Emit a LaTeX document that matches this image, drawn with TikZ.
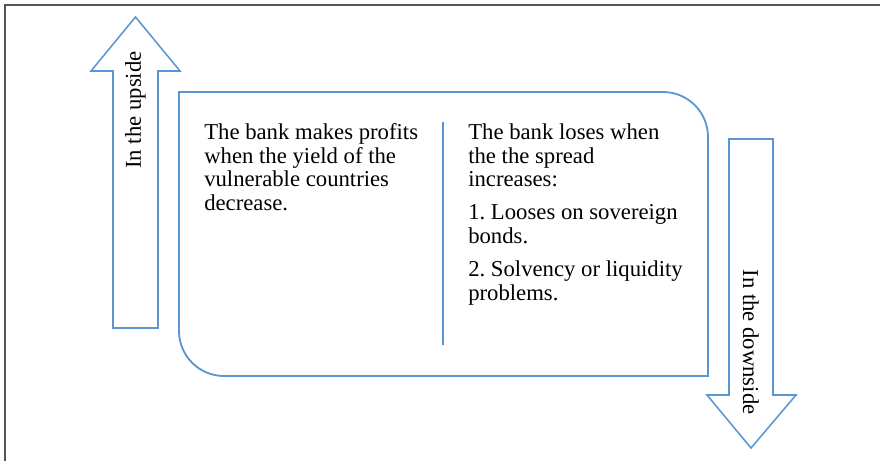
\documentclass[tikz,border=0pt]{standalone}
\usepackage{fontspec}
\setmainfont{Liberation Serif}
\usepackage{tikz}
\frenchspacing

\definecolor{officeblue}{RGB}{91,150,210}
\definecolor{framegray}{RGB}{85,85,85}

\tikzset{
  outline/.style={draw=officeblue, line width=1.1pt},
  bodytext/.style={anchor=north west, inner sep=0pt, align=left,
    font=\fontsize{16.15}{16.7}\selectfont},
  sidetext/.style={inner sep=0pt, font=\fontsize{16.15}{16.7}\selectfont}
}

\begin{document}
\begin{tikzpicture}[x=0.025cm, y=0.025cm]
\useasboundingbox (0,0) rectangle (880,461);
% frame
\draw [framegray, line width=1.4pt] (5,0) -- (5,456) -- (880,456);
% up arrow
\draw [outline] (113,133) -- (113,390) -- (91,390) -- (135.5,444)
  -- (180,390) -- (158,390) -- (158,133) -- cycle;
\node [sidetext, rotate=90] (upside) at (135.5,351) {In the upside};
% down arrow
\draw [outline] (729,322) -- (729,66) -- (707,66) -- (751,13)
  -- (796,66) -- (773,66) -- (773,322) -- cycle;
\node [sidetext, rotate=-90] (downside) at (751,119) {In the downside};
% main box
\draw [outline, line width=1.3pt] (179,369) -- (663,369)
  arc [start angle=90, end angle=0, radius=45] -- (708,85) -- (224,85)
  arc [start angle=270, end angle=180, radius=45] -- cycle;
\draw [outline] (443,339) -- (443,116);
% texts
\node [bodytext] (profit) at (204,337.5) {The bank makes profits\\
  when the yield of the\\ vulnerable countries\\ decrease.};
\node [bodytext] (loss) at (468,337.5) {The bank loses when\\
  the the spread\\ increases:\\[7pt] 1. Looses on sovereign\\ bonds.\\[7pt]
  2. Solvency or liquidity\\ problems.};
\end{tikzpicture}
\end{document}
